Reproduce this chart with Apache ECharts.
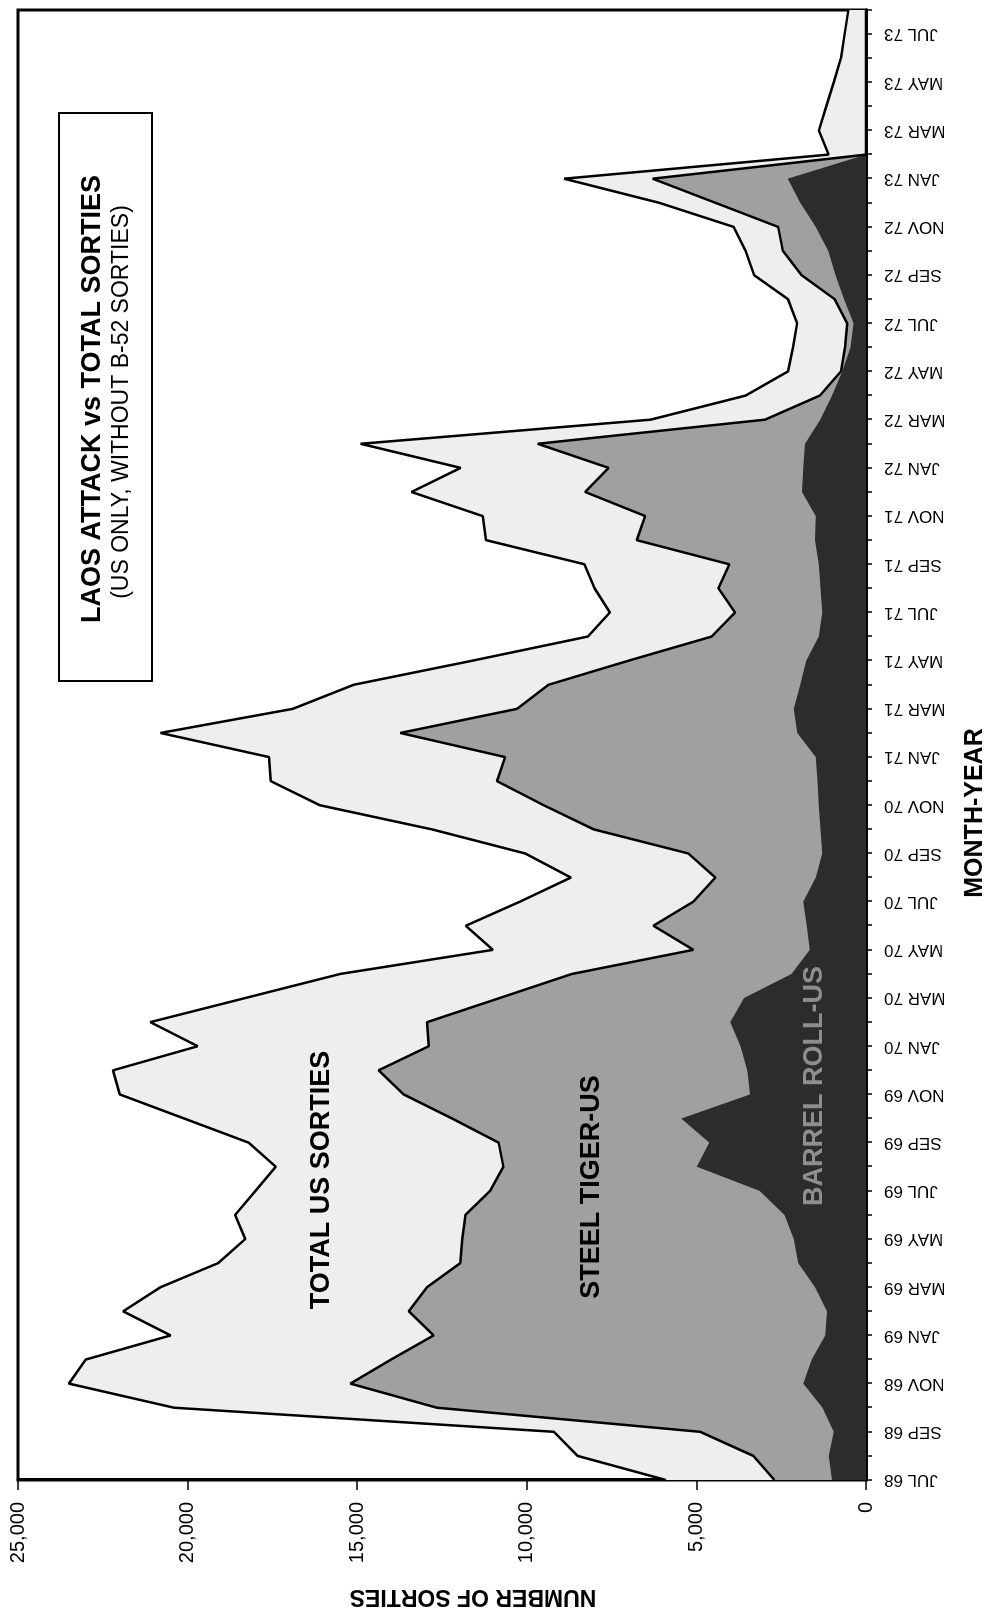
<!DOCTYPE html>
<html>
<head>
<meta charset="utf-8">
<script src="https://cdn.jsdelivr.net/npm/echarts/dist/echarts.min.js"></script>
<style>
  html, body { margin: 0; padding: 0; width: 984px; height: 1614px; overflow: hidden; background: #fff; }
  #wrap { position: absolute; left: 0; top: 0; width: 1614px; height: 984px;
          transform-origin: 0 0; transform: translateY(1614px) rotate(-90deg); }
</style>
</head>
<body>
<div id="wrap"></div>
<script>
// Month categories (JUL 68 .. AUG 73)
const months = [
  'JUL 68','AUG 68','SEP 68','OCT 68','NOV 68','DEC 68',
  'JAN 69','FEB 69','MAR 69','APR 69','MAY 69','JUN 69','JUL 69','AUG 69','SEP 69','OCT 69','NOV 69','DEC 69',
  'JAN 70','FEB 70','MAR 70','APR 70','MAY 70','JUN 70','JUL 70','AUG 70','SEP 70','OCT 70','NOV 70','DEC 70',
  'JAN 71','FEB 71','MAR 71','APR 71','MAY 71','JUN 71','JUL 71','AUG 71','SEP 71','OCT 71','NOV 71','DEC 71',
  'JAN 72','FEB 72','MAR 72','APR 72','MAY 72','JUN 72','JUL 72','AUG 72','SEP 72','OCT 72','NOV 72','DEC 72',
  'JAN 73','FEB 73','MAR 73','APR 73','MAY 73','JUN 73','JUL 73','AUG 73'
];

// Total US sorties (outer line)
const totalUS = [
  5900, 8500, 9200, 20400, 23500, 23000,
  20500, 21900, 20800, 19100, 18300, 18600, 18000, 17400, 18200, 20100, 22000, 22200,
  19700, 21100, 18300, 15500, 11000, 11800, 10200, 8700, 10050, 12800, 16100, 17550,
  17600, 20800, 16900, 15100, 11600, 8200, 7550, 8000, 8300, 11200, 11300, 13400,
  11950, 14900, 6350, 3550, 2300, 2150, 2030, 2300, 3300, 3550, 3900, 6100,
  8900, 1100, 1390, 1170, 950, 740, 630, 520
];

// Laos attack sorties: top of the Steel Tiger-US band (Steel Tiger + Barrel Roll)
const laosAttack = [
  2700, 3320, 4890, 12650, 15200, 14000,
  12750, 13480, 12940, 11960, 11900, 11810, 11080, 10690, 10830, 12200, 13630, 14370,
  12890, 12940, 10800, 8670, 5090, 6270, 5090, 4440, 5240, 8030, 9500, 10880,
  10640, 13730, 10290, 9360, 7000, 4550, 3860, 4350, 4030, 6760, 6510, 8280,
  7590, 9680, 2980, 1360, 740, 620, 555, 925, 1900, 2450, 2590, 4440,
  6290, 0, 0, 0, 0, 0, 0, 0
];

// Barrel Roll-US sorties (dark band)
const barrelRoll = [
  1000, 1100, 950, 1280, 1850, 1600,
  1200, 1150, 1500, 2000, 2130, 2400, 3140, 4990, 4620, 5450, 3420, 3500,
  3700, 4000, 3600, 2200, 1660, 1750, 1850, 1480, 1290, 1340, 1390, 1430,
  1480, 2030, 2130, 1940, 1760, 1390, 1290, 1340, 1390, 1500, 1480, 1890,
  1850, 1800, 1350, 1000, 700, 460, 370, 650, 900, 1110, 1480, 1940,
  2310, 0, 0, 0, 0, 0, 0, 0
];

const valueMin = 0, valueMax = 25000, valueStep = 5000;

const FONT = '"Liberation Sans", Arial, sans-serif';
const chart = echarts.init(document.getElementById('wrap'), null, { renderer: 'canvas' });

chart.setOption({
  animation: false,
  backgroundColor: '#ffffff',
  grid: { left: 134, right: 10, top: 18, bottom: 118, show: true,
          borderColor: '#000', borderWidth: 3, backgroundColor: 'transparent' },
  xAxis: {
    type: 'category', data: months, boundaryGap: false,
    axisLine: { lineStyle: { color: '#000', width: 3 } },
    axisTick: { show: true, interval: 0, length: 6, lineStyle: { color: '#000', width: 1.5 } },
    axisLabel: { interval: 1, rotate: 90, margin: 18, fontSize: 17, color: '#000', fontFamily: FONT }
  },
  yAxis: {
    type: 'value', min: valueMin, max: valueMax, interval: valueStep,
    axisLine: { show: true, lineStyle: { color: '#000', width: 3 } },
    axisTick: { show: true, length: 10, lineStyle: { color: '#000', width: 1.5 } },
    axisLabel: { margin: 22, fontSize: 20, color: '#000', fontFamily: FONT,
                 formatter: v => v.toLocaleString('en-US') },
    splitLine: { show: false }
  },
  series: [
    { name: 'TOTAL US SORTIES', type: 'line', data: totalUS, symbol: 'none',
      lineStyle: { color: '#000', width: 2.5 }, areaStyle: { color: '#eeeeee', opacity: 1 } },
    { name: 'STEEL TIGER-US', type: 'line', data: laosAttack, symbol: 'none',
      lineStyle: { color: '#000', width: 2.5 }, areaStyle: { color: '#a0a0a0', opacity: 1 } },
    { name: 'BARREL ROLL-US', type: 'line', data: barrelRoll, symbol: 'none',
      lineStyle: { color: '#2c2c2c', width: 0, opacity: 0 }, areaStyle: { color: '#2c2c2c', opacity: 1 } }
  ],
  graphic: [
    { type: 'rect', shape: { x: 933, y: 59, width: 568, height: 93 },
      style: { fill: '#fff', stroke: '#000', lineWidth: 2 }, z: 100 },
    { type: 'text', x: 1215, y: 93, z: 101,
      style: { text: 'LAOS ATTACK vs TOTAL SORTIES', font: 'bold 27px ' + FONT, fill: '#000',
               textAlign: 'center', textVerticalAlign: 'middle', align: 'center', verticalAlign: 'middle' } },
    { type: 'text', x: 1212, y: 122, z: 101,
      style: { text: '(US ONLY, WITHOUT B-52 SORTIES)', font: '23px ' + FONT, fill: '#000',
               textAlign: 'center', textVerticalAlign: 'middle', align: 'center', verticalAlign: 'middle' } },
    { type: 'text', x: 434, y: 322, z: 101,
      style: { text: 'TOTAL US SORTIES', font: 'bold 27px ' + FONT, fill: '#000',
               textAlign: 'center', textVerticalAlign: 'middle', align: 'center', verticalAlign: 'middle' } },
    { type: 'text', x: 427, y: 592, z: 101,
      style: { text: 'STEEL TIGER-US', font: 'bold 27px ' + FONT, fill: '#000',
               textAlign: 'center', textVerticalAlign: 'middle', align: 'center', verticalAlign: 'middle' } },
    { type: 'text', x: 528, y: 815, z: 101,
      style: { text: 'BARREL ROLL-US', font: 'bold 27px ' + FONT, fill: '#8e8e8e',
               textAlign: 'center', textVerticalAlign: 'middle', align: 'center', verticalAlign: 'middle' } },
    { type: 'text', x: 801, y: 975, z: 101,
      style: { text: 'MONTH-YEAR', font: 'bold 25px ' + FONT, fill: '#000',
               textAlign: 'center', textVerticalAlign: 'middle', align: 'center', verticalAlign: 'middle' } },
    { type: 'text', x: 18, y: 473, rotation: Math.PI / 2, z: 101,
      style: { text: 'NUMBER OF SORTIES', font: 'bold 23px ' + FONT, fill: '#000',
               textAlign: 'center', textVerticalAlign: 'middle', align: 'center', verticalAlign: 'middle' } }
  ]
});
</script>
</body>
</html>
